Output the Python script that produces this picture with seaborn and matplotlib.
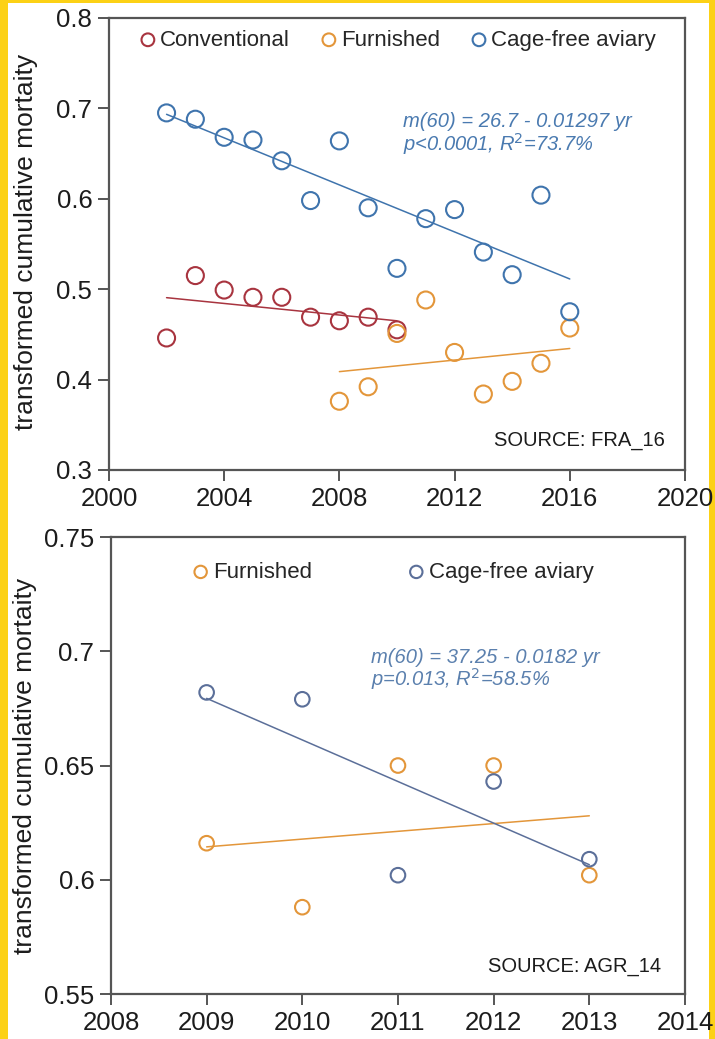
import numpy as np
import pandas as pd
import seaborn as sns
import matplotlib
matplotlib.use('Agg')
import matplotlib.pyplot as plt
from matplotlib.patches import Rectangle

# ---- data ----
# top panel, SOURCE: FRA_16
conv_years = [2002, 2003, 2004, 2005, 2006, 2007, 2008, 2009, 2010]
conv_fra = [0.446, 0.515, 0.499, 0.491, 0.491, 0.469, 0.465, 0.469, 0.455]
furn_years_fra = [2008, 2009, 2010, 2011, 2012, 2013, 2014, 2015, 2016]
furn_fra = [0.376, 0.392, 0.451, 0.488, 0.430, 0.384, 0.398, 0.418, 0.457]
cage_years_fra = [2002, 2003, 2004, 2005, 2006, 2007, 2008, 2009, 2010,
                  2011, 2012, 2013, 2014, 2015, 2016]
cage_fra = [0.695, 0.688, 0.668, 0.665, 0.642, 0.598, 0.664, 0.590, 0.523,
            0.578, 0.588, 0.541, 0.516, 0.604, 0.475]

# bottom panel, SOURCE: AGR_14
years_agr = [2009, 2010, 2011, 2012, 2013]
furn_agr = [0.616, 0.588, 0.650, 0.650, 0.602]
cage_agr = [0.682, 0.679, 0.602, 0.643, 0.609]

xticks_top = [2000, 2004, 2008, 2012, 2016, 2020]
yticks_top = [0.3, 0.4, 0.5, 0.6, 0.7, 0.8]
ytick_labels_top = ['0.3', '0.4', '0.5', '0.6', '0.7', '0.8']
xticks_bot = [2008, 2009, 2010, 2011, 2012, 2013, 2014]
yticks_bot = [0.55, 0.6, 0.65, 0.7, 0.75]
ytick_labels_bot = ['0.55', '0.6', '0.65', '0.7', '0.75']

RED = '#a8343f'
ORANGE = '#e3963a'
BLUE = '#3f74ad'
BLUE2 = '#5b6f99'
INK = '#1c1c1c'

sns.set_style('ticks')
plt.rcParams['font.family'] = ['Liberation Sans', 'DejaVu Sans']

fig = plt.figure(figsize=(7.15, 10.39), dpi=100, facecolor='#fcd116')
fig.patches.append(Rectangle((8 / 715, 0), 701 / 715, 1036 / 1039, transform=fig.transFigure,
                             facecolor='white', edgecolor='none', zorder=-5))

ax1 = fig.add_axes([0.1524, 0.5477, 0.8056, 0.435])
ax2 = fig.add_axes([0.1552, 0.0433, 0.8028, 0.4398])


def series(ax, x, y, col, s, lw_line):
    sns.regplot(x=x, y=y, ax=ax, scatter=False, ci=None, truncate=True,
                line_kws={'color': col, 'lw': lw_line})
    sns.scatterplot(x=x, y=y, ax=ax, s=s, color=col, linewidth=1.5, zorder=3)
    pts = ax.collections[-1]
    pts.set_facecolor('none')
    pts.set_edgecolor(col)
    return pts


# top panel
h_conv = series(ax1, conv_years, conv_fra, RED, 150, 1.1)
h_furn = series(ax1, furn_years_fra, furn_fra, ORANGE, 150, 1.1)
h_cage = series(ax1, cage_years_fra, cage_fra, BLUE, 150, 1.1)

ax1.set_xlim(2000, 2020)
ax1.set_ylim(0.3, 0.8)
ax1.set_xticks(xticks_top)
ax1.set_yticks(yticks_top)
ax1.set_yticklabels(ytick_labels_top)
ax1.set_ylabel('transformed cumulative mortaity', fontsize=19, color=INK)
ax1.yaxis.set_label_coords(-0.124, 0.505)
ax1.legend([h_conv, h_furn, h_cage], ['Conventional', 'Furnished', 'Cage-free aviary'],
           loc='center left', bbox_to_anchor=(0.056, 0.951), ncol=3, frameon=False,
           fontsize=16, markerscale=0.75, handlelength=0.6, handletextpad=0.25,
           columnspacing=1.45, borderaxespad=0, borderpad=0)
ax1.text(2010.2, 0.671, 'm(60) = 26.7 - 0.01297 yr\np<0.0001, R$^2$=73.7%',
         color='#4a7ab0', fontsize=14.5, style='italic', va='center', linespacing=1.0)
ax1.text(2019.3, 0.333, 'SOURCE: FRA_16', ha='right', va='center', fontsize=14.5, color=INK)

# bottom panel
h_furn2 = series(ax2, years_agr, furn_agr, ORANGE, 110, 1.1)
h_cage2 = series(ax2, years_agr, cage_agr, BLUE2, 110, 1.1)

ax2.set_xlim(2008, 2014)
ax2.set_ylim(0.55, 0.75)
ax2.set_xticks(xticks_bot)
ax2.set_yticks(yticks_bot)
ax2.set_yticklabels(ytick_labels_bot)
ax2.set_ylabel('transformed cumulative mortaity', fontsize=19, color=INK)
ax2.yaxis.set_label_coords(-0.128, 0.5)
ax2.legend([h_furn2, h_cage2], ['Furnished', 'Cage-free aviary'],
           loc='center left', bbox_to_anchor=(0.1446, 0.923), ncol=2, frameon=False,
           fontsize=16, markerscale=0.85, handlelength=0.6, handletextpad=0.25,
           columnspacing=4.4, borderaxespad=0, borderpad=0)
ax2.text(2010.72, 0.6918, 'm(60) = 37.25 - 0.0182 yr\np=0.013, R$^2$=58.5%',
         color='#5b80ae', fontsize=14.5, style='italic', va='center', linespacing=1.0)
ax2.text(2013.75, 0.5622, 'SOURCE: AGR_14', ha='right', va='center', fontsize=14.5, color=INK)

for ax in (ax1, ax2):
    for sp in ax.spines.values():
        sp.set_color('#555555')
        sp.set_linewidth(1.6)
    ax.tick_params(direction='out', length=8, width=1.4, color='#555555',
                   labelsize=18.5, labelcolor=INK, pad=4)
    ax.set_xlabel('')
    ax.set_facecolor('white')

fig.savefig('out.png', dpi=100, facecolor=fig.get_facecolor())
